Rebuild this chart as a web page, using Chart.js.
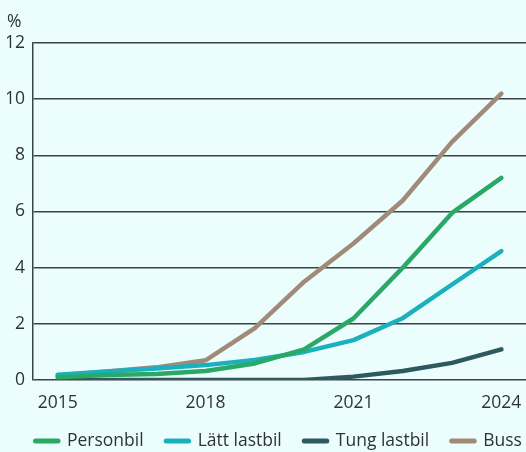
<!DOCTYPE html>
<html>
<head>
<meta charset="utf-8">
<script src="https://cdn.jsdelivr.net/npm/chart.js@4/dist/chart.umd.min.js"></script>
<style>
html,body{margin:0;padding:0;background:#ebfdfd;overflow:hidden;}
#wrap{position:relative;width:526px;height:452px;}
</style>
</head>
<body>
<div id="wrap"><canvas id="c" width="526" height="452"></canvas></div>
<script>
const years = ['2015','2016','2017','2018','2019','2020','2021','2022','2023','2024'];
const shownYears = ['2015','2018','2021','2024'];
const yTicks = [0,2,4,6,8,10,12];
const unitLabel = '%';

const personbil   = [0.10,0.18,0.21,0.32,0.59,1.09,2.19,4.0,5.95,7.2];
const lattLastbil = [0.19,0.30,0.41,0.53,0.71,1.0,1.42,2.2,3.4,4.59];
const tungLastbil = [0,0,0,0,0,0,0.12,0.32,0.61,1.09];
const buss        = [0.15,0.30,0.45,0.70,1.85,3.5,4.86,6.39,8.48,10.2];

const seriesNames = ['Personbil','Lätt lastbil','Tung lastbil','Buss'];
const seriesData = [personbil, lattLastbil, tungLastbil, buss];
const seriesColors = ['#2aa866','#1ab0be','#2e5a5f','#a08a78'];

const textColor = '#2f3335';
const gridColor = '#3b4447';
const fontFamily = '"Open Sans", "Noto Sans", sans-serif';
const fontSize = 17.5;

const legendPlugin = {
  id: 'customLegend',
  afterDraw(chart) {
    const ctx = chart.ctx;
    ctx.save();
    ctx.font = fontSize + 'px ' + fontFamily;
    ctx.textBaseline = 'middle';
    let x = 33;
    const y = 441;
    chart.data.datasets.forEach(ds => {
      ctx.strokeStyle = ds.borderColor;
      ctx.lineWidth = 5;
      ctx.lineCap = 'round';
      ctx.beginPath();
      ctx.moveTo(x + 2.5, y);
      ctx.lineTo(x + 25, y);
      ctx.stroke();
      ctx.fillStyle = textColor;
      ctx.fillText(ds.label, x + 34, y);
      x += 34 + ctx.measureText(ds.label).width + 20;
    });
    ctx.restore();
  }
};

new Chart(document.getElementById('c'), {
  type: 'line',
  data: {
    labels: years,
    datasets: seriesNames.map((n, i) => ({
      label: n,
      data: seriesData[i],
      borderColor: seriesColors[i],
      backgroundColor: seriesColors[i],
      borderWidth: 4.5,
      pointRadius: 0,
      borderCapStyle: 'round',
      borderJoinStyle: 'round',
      tension: 0,
      fill: false
    }))
  },
  options: {
    responsive: false,
    animation: false,
    layout: { padding: { left: 7, right: 0, top: 12, bottom: 27 } },
    plugins: {
      legend: { display: false },
      tooltip: { enabled: false },
      title: {
        display: true,
        text: unitLabel,
        align: 'start',
        color: textColor,
        font: { family: fontFamily, size: fontSize, weight: 'normal' },
        padding: { top: 0, bottom: 10 }
      }
    },
    scales: {
      x: {
        offset: true,
        afterFit(scale) { scale.height = 45; scale.paddingLeft = 0; scale.paddingRight = 0; },
        grid: { display: false, drawTicks: false },
        border: { display: false },
        ticks: {
          autoSkip: false,
          maxRotation: 0,
          color: textColor,
          font: { family: fontFamily, size: fontSize },
          padding: 13,
          callback(v, i) {
            const l = years[i];
            return shownYears.includes(l) ? l : '';
          }
        }
      },
      y: {
        min: 0,
        max: 12,
        afterFit(scale) { scale.width = 26; },
        afterBuildTicks(scale) { scale.ticks = yTicks.map(v => ({ value: v })); },
        grid: { color: gridColor, lineWidth: 1.5, drawTicks: false },
        border: { display: true, color: gridColor, width: 1.5 },
        ticks: {
          color: textColor,
          font: { family: fontFamily, size: fontSize },
          padding: 8
        }
      }
    }
  },
  plugins: [legendPlugin]
});
</script>
</body>
</html>
